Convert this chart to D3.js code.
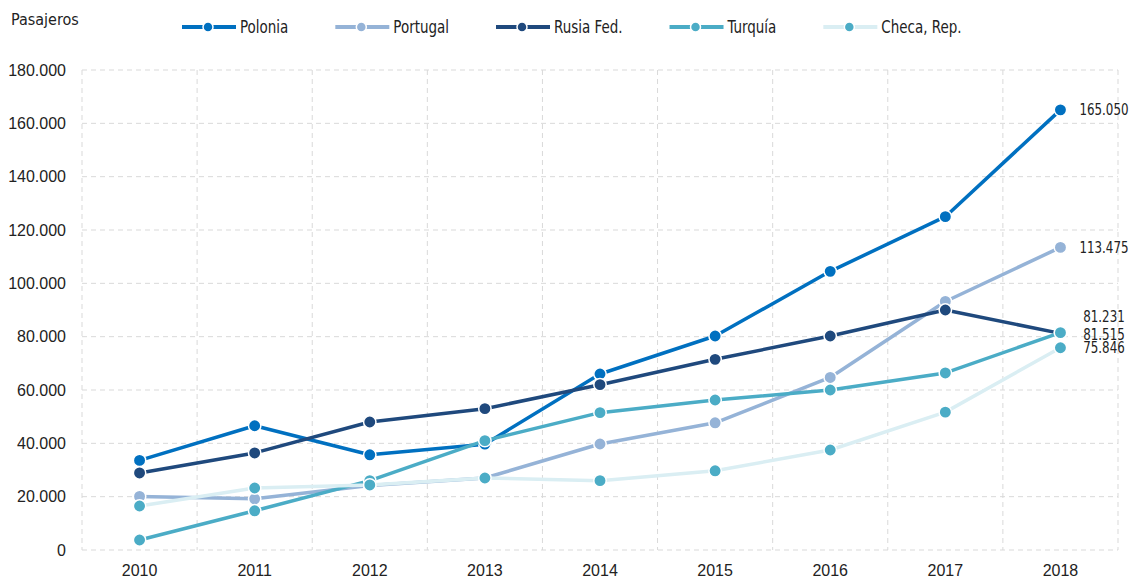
<!DOCTYPE html>
<html>
<head>
<meta charset="utf-8">
<script src="https://cdn.jsdelivr.net/npm/d3@7"></script>
<style>
  body { margin: 0; background: #fff; }
  text { fill: #222; }
</style>
</head>
<body>
<svg class="chart" width="1136" height="583"></svg>
<script>
// data
var years = ["2010","2011","2012","2013","2014","2015","2016","2017","2018"];
var polonia  = [33600, 46600, 35700, 39700, 66000, 80250, 104500, 125000, 165050];
var portugal = [20100, 19200, 24200, 27000, 39750, 47700, 64700, 93200, 113475];
var rusia    = [28900, 36400, 48000, 53000, 62000, 71500, 80250, 90000, 81231];
var turquia  = [3750, 14700, 26000, 41000, 51500, 56250, 60000, 66400, 81515];
var checa    = [16500, 23250, 24400, 27000, 26000, 29700, 37500, 51700, 75846];
var yTicks   = [0, 20000, 40000, 60000, 80000, 100000, 120000, 140000, 160000, 180000];

var seriesNames = ["Polonia", "Portugal", "Rusia Fed.", "Turquía", "Checa, Rep."];
var seriesData  = [polonia, portugal, rusia, turquia, checa];
var lineColors  = ["#0070c0", "#95b3d7", "#1f497d", "#4bacc6", "#daeef3"];
var dotColors   = ["#0070c0", "#95b3d7", "#1f497d", "#4bacc6", "#4bacc6"];
var labelShift  = [0, 0, -17, 1.5, 0]; // end labels nudged apart where they collide

var svg = d3.select(".chart"),
    width = +svg.attr("width"),
    height = +svg.attr("height");

var pLeft = 82, pRight = 1118, pTop = 70, pBottom = 550;
var narrow = "'Liberation Sans Narrow', 'Arial Narrow', 'DejaVu Sans Condensed', sans-serif";
var regular = "'Liberation Sans', Arial, sans-serif";

var x = d3.scaleBand().domain(years).range([pLeft, pRight]);
var y = d3.scaleLinear().domain([0, 180000]).range([pBottom, pTop]);
var fmt = function(v) { return d3.format(",")(v).replace(/,/g, "."); };

// condensed fallback font is a bit wide, squeeze it
function squeeze(t, f) {
    t.attr("textLength", t.node().getComputedTextLength() * f)
     .attr("lengthAdjust", "spacingAndGlyphs");
    return t;
}

// grid
var grid = svg.append("g").attr("stroke", "#d9d9d9").attr("stroke-dasharray", "5,4");
grid.selectAll(".h").data(yTicks).enter().append("line")
    .attr("x1", pLeft).attr("x2", pRight)
    .attr("y1", function(d) { return y(d); }).attr("y2", function(d) { return y(d); });
var vx = years.map(function(d) { return x(d); }).concat([pRight]);
grid.selectAll(".v").data(vx).enter().append("line")
    .attr("x1", function(d) { return d; }).attr("x2", function(d) { return d; })
    .attr("y1", pTop).attr("y2", pBottom);

// axes
var yAxis = svg.append("g")
    .attr("transform", "translate(" + (pLeft - 16) + ",0)")
    .call(d3.axisLeft(y).tickValues(yTicks).tickFormat(fmt).tickSize(0).tickPadding(0));
yAxis.select(".domain").remove();
yAxis.selectAll("text").attr("font-family", regular).attr("font-size", 16).attr("fill", "#222");

var xAxis = svg.append("g")
    .attr("transform", "translate(0," + (pBottom + 15) + ")")
    .call(d3.axisBottom(x).tickSize(0).tickPadding(0));
xAxis.select(".domain").remove();
xAxis.selectAll("text").attr("font-family", regular).attr("font-size", 16).attr("fill", "#222");

var cx = function(d, i) { return x(years[i]) + x.bandwidth() / 2; };
var line = d3.line().x(cx).y(function(d) { return y(d); });

// series
seriesData.forEach(function(vals, k) {
    var g = svg.append("g");
    g.append("path")
        .attr("d", line(vals))
        .attr("fill", "none")
        .attr("stroke", lineColors[k])
        .attr("stroke-width", 3.5)
        .attr("stroke-linejoin", "round");
    g.selectAll("circle").data(vals).enter().append("circle")
        .attr("cx", cx)
        .attr("cy", function(d) { return y(d); })
        .attr("r", 6.2)
        .attr("fill", dotColors[k])
        .attr("stroke", "#fff")
        .attr("stroke-width", 1.5);
});

// end labels
seriesData.forEach(function(vals, k) {
    var last = vals[vals.length - 1];
    var t = svg.append("text")
        .attr("x", 1104)
        .attr("y", y(last) + labelShift[k])
        .attr("dy", "0.35em")
        .attr("text-anchor", "middle")
        .attr("font-family", narrow)
        .attr("font-size", 15.5)
        .text(fmt(last));
    squeeze(t, 0.85);
});

// unit label
svg.append("text")
    .attr("x", 11).attr("y", 25)
    .attr("font-family", narrow).attr("font-size", 16)
    .text("Pasajeros");

// legend
var lx = 182;
seriesNames.forEach(function(name, k) {
    var g = svg.append("g").attr("transform", "translate(" + lx + ",27)");
    g.append("line").attr("x1", 0).attr("x2", 54)
        .attr("stroke", lineColors[k]).attr("stroke-width", 4);
    g.append("circle").attr("cx", 26).attr("r", 5)
        .attr("fill", dotColors[k]).attr("stroke", "#fff").attr("stroke-width", 1.5);
    var t = g.append("text").attr("x", 58).attr("dy", "0.35em")
        .attr("font-family", narrow).attr("font-size", 17)
        .text(name);
    squeeze(t, 0.88);
    lx += 58 + +t.attr("textLength") + 47;
});
</script>
</body>
</html>
